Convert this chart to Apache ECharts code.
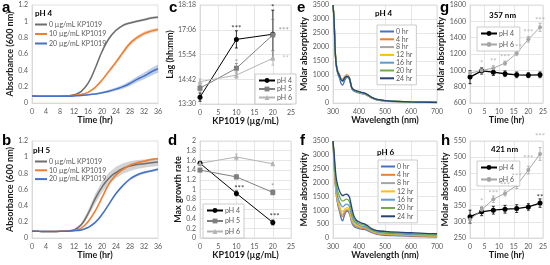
<!DOCTYPE html>
<html>
<head>
<meta charset="utf-8">
<script src="https://cdn.jsdelivr.net/npm/echarts@6/dist/echarts.min.js"></script>
<style>
html, body { margin: 0; padding: 0; background: #fff; }
#main { width: 550px; height: 265px; }
</style>
</head>
<body>
<div id="main"></div>
<script>
// ---- growth curves (a, b) ----
var growthTime = [0, 2, 4, 6, 8, 10, 12, 14, 16, 18, 20, 22, 24, 26, 28, 30, 32, 34, 36];
var concNames = ['0 µg/mL KP1019', '10 µg/mL KP1019', '20 µg/mL KP1019'];
var a0 = [0.085, 0.083, 0.082, 0.082, 0.084, 0.088, 0.1, 0.14, 0.24, 0.42, 0.63, 0.79, 0.89, 0.95, 0.98, 1.0, 1.02, 1.04, 1.05];
var a0Sd = [0.004, 0.004, 0.004, 0.004, 0.004, 0.005, 0.006, 0.008, 0.012, 0.015, 0.015, 0.015, 0.014, 0.014, 0.014, 0.014, 0.015, 0.015, 0.015];
var a10 = [0.085, 0.083, 0.082, 0.082, 0.083, 0.086, 0.092, 0.105, 0.13, 0.19, 0.28, 0.39, 0.5, 0.62, 0.73, 0.8, 0.85, 0.88, 0.9];
var a10Sd = [0.004, 0.004, 0.004, 0.004, 0.004, 0.005, 0.005, 0.006, 0.008, 0.012, 0.016, 0.02, 0.024, 0.026, 0.026, 0.025, 0.024, 0.022, 0.02];
var a20 = [0.085, 0.083, 0.082, 0.082, 0.083, 0.084, 0.087, 0.092, 0.1, 0.11, 0.125, 0.145, 0.17, 0.2, 0.24, 0.29, 0.33, 0.38, 0.42];
var a20Sd = [0.004, 0.004, 0.004, 0.004, 0.004, 0.004, 0.005, 0.006, 0.008, 0.01, 0.013, 0.016, 0.02, 0.025, 0.03, 0.035, 0.04, 0.045, 0.05];
var b0 = [0.085, 0.082, 0.08, 0.081, 0.083, 0.088, 0.1, 0.16, 0.3, 0.48, 0.63, 0.74, 0.81, 0.86, 0.89, 0.91, 0.92, 0.93, 0.94];
var b0Sd = [0.005, 0.005, 0.005, 0.005, 0.006, 0.007, 0.01, 0.02, 0.04, 0.06, 0.07, 0.07, 0.07, 0.065, 0.06, 0.055, 0.05, 0.05, 0.05];
var b10 = [0.085, 0.082, 0.08, 0.081, 0.083, 0.086, 0.095, 0.12, 0.2, 0.33, 0.5, 0.67, 0.78, 0.85, 0.9, 0.93, 0.95, 0.97, 0.98];
var b10Sd = [0.004, 0.004, 0.004, 0.004, 0.004, 0.005, 0.006, 0.008, 0.012, 0.015, 0.018, 0.018, 0.016, 0.015, 0.014, 0.013, 0.013, 0.013, 0.013];
var b20 = [0.085, 0.082, 0.08, 0.081, 0.082, 0.084, 0.09, 0.1, 0.13, 0.19, 0.29, 0.42, 0.55, 0.65, 0.73, 0.78, 0.81, 0.83, 0.85];
var b20Sd = [0.004, 0.004, 0.004, 0.004, 0.004, 0.004, 0.005, 0.006, 0.008, 0.01, 0.012, 0.014, 0.015, 0.015, 0.015, 0.015, 0.015, 0.015, 0.015];

// ---- lag (c) and max growth rate (d) ----
var dose = [0, 10, 20];
var phNames = ['pH 4', 'pH 5', 'pH 6'];
var lagPH4 = ['13:50', '16:38', '16:53'];
var lagPH5 = ['14:16', '15:14', '16:51'];
var lagPH6 = ['14:35', '14:54', '15:43'];
var lagErrPH4 = [12, 25, 70];
var lagErrPH5 = [8, 14, 45];
var lagErrPH6 = [8, 10, 20];
var lagTicks = ['13:30', '14:42', '15:54', '17:06', '18:18'];
var lagStarsPH4 = [[10, '17:10', '***'], [20, '18:10', '*']];
var lagStarsPH5 = [[10, '15:30', '*'], [23, '17:05', '***']];
var lagStarsPH6 = [[23.5, '15:44', '**']];
var ratePH4 = [1.54, 0.92, 0.32];
var ratePH5 = [1.40, 1.26, 0.94];
var ratePH6 = [1.54, 1.67, 1.53];
var rateErrPH4 = [0.04, 0.05, 0.05];
var rateErrPH5 = [0.03, 0.04, 0.05];
var rateErrPH6 = [0.04, 0.06, 0.03];
var rateStarsPH4 = [[10.8, 1.03, '***'], [20.5, 0.44, '***']];
var rateStarsPH5 = [[20, 1.07, '*']];

// ---- spectra (e, f) ----
var wavelength = [300, 304, 308, 312, 318, 325, 331, 337, 344, 351, 357, 364, 372, 380, 390, 400, 410, 421, 435, 450, 470, 500, 550, 600, 650, 700];
var specTimes = ['0 hr', '4 hr', '8 hr', '12 hr', '16 hr', '20 hr', '24 hr'];
var specColors = ['#4472C4', '#ED7D31', '#A5A5A5', '#FFC000', '#5B9BD5', '#70AD47', '#264478'];
var specPH4 = [
  [3500, 2950, 1900, 1350, 1050, 880, 700, 640, 780, 900, 917, 820, 520, 430, 390, 360, 335, 316, 250, 170, 105, 70, 45, 30, 22, 18],
  [3500, 3000, 2000, 1450, 1150, 1020, 880, 850, 930, 1000, 994, 890, 560, 470, 420, 390, 350, 331, 265, 180, 110, 75, 48, 33, 24, 20],
  [3500, 3000, 1980, 1430, 1130, 1000, 860, 820, 910, 985, 978, 875, 550, 465, 420, 390, 355, 336, 270, 185, 115, 78, 50, 34, 25, 20],
  [3500, 3000, 1960, 1410, 1110, 980, 840, 800, 890, 965, 958, 860, 545, 460, 418, 390, 358, 339, 272, 188, 118, 80, 52, 35, 26, 21],
  [3500, 3000, 1950, 1400, 1100, 970, 830, 780, 880, 950, 945, 850, 540, 460, 420, 392, 360, 341, 275, 190, 120, 82, 53, 36, 27, 22],
  [3500, 3000, 1950, 1400, 1100, 970, 830, 780, 878, 948, 941, 848, 545, 465, 425, 398, 365, 346, 280, 195, 123, 84, 55, 37, 28, 22],
  [3500, 3000, 1960, 1410, 1110, 980, 840, 790, 885, 952, 945, 855, 555, 475, 435, 410, 378, 358, 290, 200, 128, 88, 57, 39, 29, 23]
];
var specPH6 = [
  [3500, 2750, 2050, 1600, 1220, 960, 720, 620, 820, 950, 966, 860, 570, 420, 370, 340, 320, 307, 260, 190, 130, 100, 80, 60, 50, 40],
  [3500, 2780, 2100, 1650, 1280, 1030, 840, 770, 900, 990, 998, 890, 610, 470, 410, 370, 350, 337, 285, 210, 150, 120, 100, 80, 65, 55],
  [3500, 2800, 2150, 1700, 1320, 1080, 900, 840, 950, 1020, 1027, 920, 640, 500, 440, 400, 380, 370, 310, 230, 170, 140, 115, 95, 80, 70],
  [3500, 2850, 2200, 1750, 1380, 1150, 1000, 940, 1020, 1090, 1090, 980, 700, 540, 470, 420, 400, 388, 330, 250, 190, 160, 130, 110, 95, 85],
  [3500, 2900, 2300, 1850, 1500, 1300, 1180, 1120, 1170, 1220, 1210, 1110, 820, 610, 520, 460, 430, 413, 350, 270, 210, 180, 150, 130, 115, 105],
  [3500, 3000, 2450, 2000, 1700, 1500, 1380, 1330, 1360, 1400, 1390, 1280, 950, 700, 580, 520, 490, 460, 390, 300, 240, 210, 180, 160, 145, 135],
  [3500, 3100, 2600, 2200, 1900, 1700, 1580, 1530, 1560, 1580, 1560, 1450, 1100, 800, 640, 580, 540, 510, 430, 330, 270, 240, 210, 190, 170, 160]
];

// ---- absorptivity vs time (g, h) ----
var absTime = [0, 4, 8, 12, 16, 20, 24];
var abs357PH4 = [917, 994, 978, 958, 945, 941, 945];
var abs357PH6 = [966, 998, 1027, 1088, 1210, 1380, 1527];
var abs357ErrPH4 = [80, 40, 40, 35, 35, 30, 35];
var abs357ErrPH6 = [25, 35, 30, 25, 30, 35, 50];
var abs357Stars = [[4, 1090, '*'], [8, 1114, '**'], [12, 1163, '***'], [16, 1286, '***'], [20, 1470, '***'], [24, 1616, '***']];
var abs421PH4 = [316, 331, 336, 339, 341, 346, 358];
var abs421PH6 = [307, 337, 370, 388, 413, 460, 510];
var abs421ErrPH4 = [20, 12, 12, 12, 12, 10, 13];
var abs421ErrPH6 = [10, 10, 10, 8, 10, 12, 20];
var abs421StarsPH6 = [[4, 363, '*'], [8, 389, '***'], [12, 414, '***'], [16, 440, '***'], [20, 497, '***'], [24, 563, '***']];
var abs421StarsPH4 = [[24, 375, '**']];

var font = 'Lato, "Open Sans", sans-serif';
var tickColor = '#595959';
var gridColor = '#E0E0E0';
var LAG0 = 810; // 13:30 in minutes

function toMin(s) { var p = s.split(':'); return +p[0] * 60 + +p[1]; }
function toHHMM(v) {
  var m = Math.round(v + LAG0);
  var mm = m % 60;
  return Math.floor(m / 60) + ':' + (mm < 10 ? '0' + mm : mm);
}
function plain(v) { return String(+v.toFixed(2)); }
function pairs(xs, ys) { return xs.map(function (x, i) { return [x, ys[i]]; }); }

// 坐标轴
function makeAxis(gi, min, max, interval, name, gap, isY, extra) {
  var ax = {
    gridIndex: gi, type: 'value', min: min, max: max, interval: interval,
    axisLine: { show: true, onZero: false, lineStyle: { color: '#D9D9D9' } },
    axisTick: { show: false },
    axisLabel: { fontSize: 7, color: tickColor, fontFamily: font, margin: isY ? 4 : 5, formatter: plain },
    splitLine: { show: true, lineStyle: { color: gridColor, width: 0.8 } },
    name: name, nameLocation: 'middle', nameGap: gap,
    nameTextStyle: { fontSize: 9, fontWeight: 'bold', color: '#1a1a1a', fontFamily: font }
  };
  if (extra) for (var k in extra) ax[k] = extra[k];
  return ax;
}

var grids = [
  { left: 32, top: 5, width: 126, height: 98 },
  { left: 32, top: 141, width: 126, height: 97 },
  { left: 200, top: 5, width: 91, height: 99 },
  { left: 200, top: 141, width: 91, height: 97 },
  { left: 333, top: 5, width: 104, height: 98 },
  { left: 333, top: 141, width: 104, height: 97 },
  { left: 470, top: 5, width: 75, height: 98 },
  { left: 470, top: 141, width: 75, height: 97 }
];
grids.forEach(function (g) { g.show = true; g.borderColor = '#D9D9D9'; g.borderWidth = 0.8; });

var noSplit = { splitLine: { show: false } };
var xAxes = [
  makeAxis(0, 0, 36, 4, 'Time (hr)', 10, false, noSplit),
  makeAxis(1, 0, 36, 4, 'Time (hr)', 12, false, noSplit),
  makeAxis(2, 0, 25, 5, 'KP1019 (µg/mL)', 9, false),
  makeAxis(3, 0, 25, 5, 'KP1019 (µg/mL)', 12, false),
  makeAxis(4, 300, 700, 100, 'Wavelength (nm)', 11, false),
  makeAxis(5, 300, 700, 100, 'Wavelength (nm)', 12, false),
  makeAxis(6, 0, 25, 5, 'Time (hr)', 10, false),
  makeAxis(7, 0, 25, 5, 'Time (hr)', 12, false)
];
var yAxes = [
  makeAxis(0, 0, 1.2, 0.2, 'Absorbance (600 nm)', 15, true, noSplit),
  makeAxis(1, 0, 1.2, 0.2, 'Absorbance (600 nm)', 15, true, noSplit),
  makeAxis(2, 0, toMin(lagTicks[4]) - LAG0, 72, 'Lag (hh:mm)', 20, true,
    { axisLabel: { fontSize: 7, color: tickColor, fontFamily: font, margin: 4, formatter: toHHMM } }),
  makeAxis(3, 0, 2, 0.2, 'Max growth rate', 17, true),
  makeAxis(4, 0, 3500, 500, 'Molar absorptivity', 20, true),
  makeAxis(5, 0, 3500, 500, 'Molar absorptivity', 20, true),
  makeAxis(6, 600, 1800, 200, 'Molar absorptivity', 16, true),
  makeAxis(7, 250, 550, 50, 'Molar absorptivity', 16, true)
];

var series = [];

// 误差线
function errorBars(gi, xs, ys, errs, color) {
  series.push({
    type: 'custom', xAxisIndex: gi, yAxisIndex: gi, z: 1,
    itemStyle: { color: color },
    encode: { x: 0, y: 1 },
    data: xs.map(function (x, i) { return [x, ys[i], errs[i]]; }),
    renderItem: function (params, api) {
      var x = api.value(0), y = api.value(1), e = api.value(2);
      var p1 = api.coord([x, y + e]), p2 = api.coord([x, y - e]);
      var st = { stroke: api.visual('color'), lineWidth: 0.8 };
      return { type: 'group', children: [
        { type: 'line', shape: { x1: p1[0], y1: p1[1], x2: p2[0], y2: p2[1] }, style: st },
        { type: 'line', shape: { x1: p1[0] - 1.5, y1: p1[1], x2: p1[0] + 1.5, y2: p1[1] }, style: st },
        { type: 'line', shape: { x1: p2[0] - 1.5, y1: p2[1], x2: p2[0] + 1.5, y2: p2[1] }, style: st }
      ] };
    }
  });
}

// 显著性星号
function stars(gi, list, color) {
  series.push({
    type: 'scatter', xAxisIndex: gi, yAxisIndex: gi, clip: false, silent: true, z: 5,
    symbolSize: 1, itemStyle: { color: 'transparent' },
    label: { show: true, position: 'inside', fontSize: 8, color: color, fontFamily: font,
      formatter: function (p) { return p.value[2]; } },
    data: list
  });
}

function markerLine(gi, name, xs, ys, color, symbol, size, width) {
  series.push({
    type: 'line', name: name, xAxisIndex: gi, yAxisIndex: gi, z: 3,
    symbol: symbol, symbolSize: size, showSymbol: true,
    lineStyle: { color: color, width: width }, itemStyle: { color: color },
    data: pairs(xs, ys)
  });
}

// c: lag
var phColors = ['#000000', '#7F7F7F', '#B4B4B4'];
var phSymbols = ['circle', 'rect', 'triangle'];
var lagAll = [lagPH4, lagPH5, lagPH6];
var lagErrAll = [lagErrPH4, lagErrPH5, lagErrPH6];
var lagStarsAll = [lagStarsPH4, lagStarsPH5, lagStarsPH6];
for (var i = 0; i < 3; i++) {
  var lagVals = lagAll[i].map(function (s) { return toMin(s) - LAG0; });
  markerLine(2, phNames[i], dose, lagVals, phColors[i], phSymbols[i], 5, 1);
  errorBars(2, dose, lagVals, lagErrAll[i], phColors[i]);
  stars(2, lagStarsAll[i].map(function (s) { return [s[0], toMin(s[1]) - LAG0, s[2]]; }), phColors[i]);
}
// d: max growth rate
var rateAll = [ratePH4, ratePH5, ratePH6];
var rateErrAll = [rateErrPH4, rateErrPH5, rateErrPH6];
for (var i = 0; i < 3; i++) {
  markerLine(3, phNames[i], dose, rateAll[i], phColors[i], phSymbols[i], 5, 1);
  errorBars(3, dose, rateAll[i], rateErrAll[i], phColors[i]);
}
stars(3, rateStarsPH4, '#000000');
stars(3, rateStarsPH5, '#7F7F7F');

// a, b: growth curves with shaded bands
var growthColors = ['#6E6E6E', '#ED7D31', '#4472C4'];
var bandColors = ['rgba(128,128,128,0.35)', 'rgba(237,125,49,0.35)', 'rgba(68,114,196,0.35)'];
function growthPanel(gi, means, sds) {
  for (var k = 0; k < 3; k++) {
    (function (m, sd, col) {
      series.push({
        type: 'custom', xAxisIndex: gi, yAxisIndex: gi, z: 2, silent: true,
        encode: { x: 0, y: [1, 2] },
        data: growthTime.map(function (t, j) { return [t, m[j] - sd[j], m[j] + sd[j]]; }),
        renderItem: function (params, api) {
          if (params.dataIndex !== 0) return null;
          var lo = [], hi = [];
          for (var j = 0; j < growthTime.length; j++) {
            lo.push(api.coord([growthTime[j], m[j] - sd[j]]));
            hi.unshift(api.coord([growthTime[j], m[j] + sd[j]]));
          }
          return { type: 'polygon', shape: { points: lo.concat(hi) }, style: { fill: col } };
        }
      });
    })(means[k], sds[k], bandColors[k]);
  }
  for (var k = 0; k < 3; k++) {
    series.push({
      type: 'line', name: concNames[k], xAxisIndex: gi, yAxisIndex: gi, z: 4,
      symbol: 'none', smooth: true, lineStyle: { color: growthColors[k], width: 1.5 },
      itemStyle: { color: growthColors[k] },
      data: pairs(growthTime, means[k])
    });
  }
}
growthPanel(0, [a0, a10, a20], [a0Sd, a10Sd, a20Sd]);
growthPanel(1, [b0, b10, b20], [b0Sd, b10Sd, b20Sd]);

// e, f: spectra
function spectraPanel(gi, spectra) {
  spectra.forEach(function (ys, k) {
    series.push({
      type: 'line', name: specTimes[k], xAxisIndex: gi, yAxisIndex: gi,
      symbol: 'none', smooth: 0.3, lineStyle: { color: specColors[k], width: 1.3 },
      itemStyle: { color: specColors[k] },
      data: pairs(wavelength, ys)
    });
  });
}
spectraPanel(4, specPH4);
spectraPanel(5, specPH6);

// g, h: absorptivity over time
markerLine(6, 'pH 4', absTime, abs357PH4, '#000000', 'circle', 5, 1.3);
markerLine(6, 'pH 6 ', absTime, abs357PH6, '#A6A6A6', 'circle', 4, 1);
errorBars(6, absTime, abs357PH4, abs357ErrPH4, '#000000');
errorBars(6, absTime, abs357PH6, abs357ErrPH6, '#A6A6A6');
stars(6, abs357Stars, '#A6A6A6');
markerLine(7, 'pH 4', absTime, abs421PH4, '#000000', 'circle', 5, 1.3);
markerLine(7, 'pH 6 ', absTime, abs421PH6, '#A6A6A6', 'circle', 4, 1);
errorBars(7, absTime, abs421PH4, abs421ErrPH4, '#000000');
errorBars(7, absTime, abs421PH6, abs421ErrPH6, '#A6A6A6');
stars(7, abs421StarsPH6, '#A6A6A6');
stars(7, abs421StarsPH4, '#000000');

// 图例
function legend(names, left, top, w, gap, boxed, lineOnly) {
  return {
    data: names.map(function (n) { return lineOnly ? { name: n, icon: 'rect' } : { name: n }; }),
    left: left, top: top, orient: 'vertical', selectedMode: false,
    itemWidth: w, itemHeight: lineOnly ? 2 : 6, itemGap: gap,
    padding: boxed ? [3, 4, 3, 3] : 0,
    borderColor: boxed ? '#BFBFBF' : 'transparent', borderWidth: boxed ? 0.8 : 0,
    backgroundColor: boxed ? '#fff' : 'transparent',
    textStyle: { fontSize: 7, lineHeight: 7, color: tickColor, fontFamily: font, padding: [0, 0, 0, -3] }
  };
}
var legends = [
  legend(concNames, 35, 21, 12, 2.5, false, true),
  legend(concNames, 35, 158, 12, 1.8, false, true),
  legend(phNames, 255, 74, 16, 1.5, true, false),
  legend(phNames, 203, 204, 16, 3.5, true, false),
  legend(specTimes, 377, 25, 14, 0.8, true, true),
  legend(specTimes, 378, 160, 14, 1.3, true, true),
  legend(['pH 4', 'pH 6 '], 477, 27, 16, 4, true, false),
  legend(['pH 4', 'pH 6 '], 477, 161, 16, 5, true, false)
];

function label(text, left, top, size) {
  return { text: text, left: left, top: top, padding: 0,
    textStyle: { fontSize: size, fontWeight: 'bold', color: '#000', fontFamily: size > 10 ? 'Liberation Sans, Arial, sans-serif' : font } };
}
var titles = [
  label('a', 2, 0, 15), label('b', 2, 133, 15), label('c', 169, 0, 15), label('d', 168, 133, 15),
  label('e', 297, 0, 15), label('f', 300, 133, 15), label('g', 440, 0, 15), label('h', 441, 133, 15),
  label('pH 4', 35, 9, 8), label('pH 5', 33, 146, 8), label('pH 4', 375, 9, 8), label('pH 6', 377, 148, 8),
  label('357 nm', 489, 11, 8), label('421 nm', 491, 145, 8)
];

var chart = echarts.init(document.getElementById('main'));
chart.setOption({
  animation: false,
  title: titles,
  legend: legends,
  grid: grids,
  xAxis: xAxes,
  yAxis: yAxes,
  series: series
});
</script>
</body>
</html>
